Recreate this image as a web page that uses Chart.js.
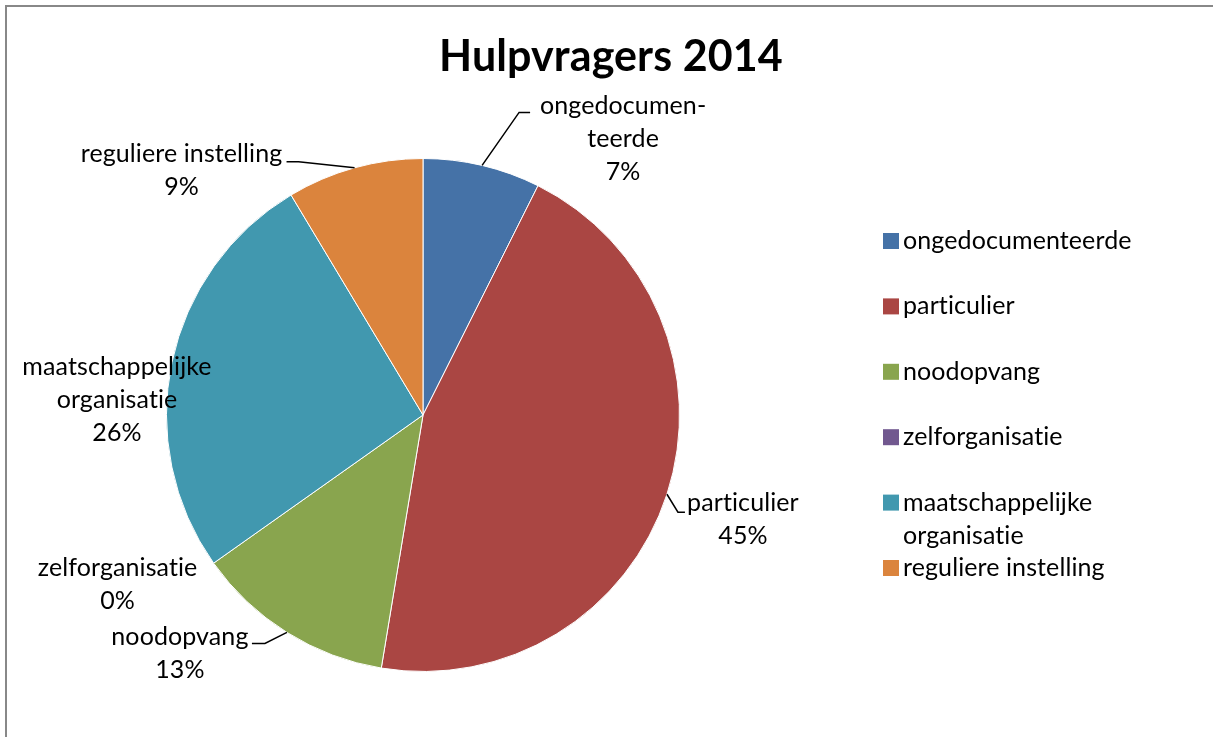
<!DOCTYPE html>
<html lang="nl">
<head>
<meta charset="UTF-8">
<title>Hulpvragers 2014</title>
<style>
  body { margin: 0; background: #fff; }
  #wrap { position: relative; width: 1213px; height: 737px; }
</style>
</head>
<body>
<div id="wrap"><canvas id="myChart"></canvas></div>

<script src="https://cdn.jsdelivr.net/npm/chart.js"></script>
<script>
// ---- data ----
const categories = ['ongedocumenteerde', 'particulier', 'noodopvang', 'zelforganisatie', 'maatschappelijke organisatie', 'reguliere instelling']
const percentages = [7.4, 45.2, 12.6, 0, 26.2, 8.6]
const sliceColors = ['#4572A7', '#AA4643', '#89A54E', '#71588F', '#4198AF', '#DB843D']
const chartTitle = 'Hulpvragers 2014'

// label placement relative to the outer mid point of each slice
const labelLayout = [
  { lines: ['ongedocumen-', 'teerde'], dx: 141, dy: -59, leader: [[37, -53], [48, -53]] },
  { lines: ['particulier'], dx: 76, dy: 9, leader: [[11, 18], [18, 18]] },
  { lines: ['noodopvang'], dx: -107, dy: 5, leader: [[-22, 11], [-35, 11]] },
  { lines: ['zelforganisatie'], dx: -96, dy: 5, leader: null },
  { lines: ['maatschappelijke', 'organisatie'], dx: -55, dy: 5, leader: null },
  { lines: ['reguliere instelling'], dx: -173, dy: -14, leader: [[-56, -6], [-68, -6]] }
]

const FONT = 'Lato, "Open Sans", sans-serif'
const LABEL_SIZE = 25
const LINE_H = 33

function txt(ctx, s, x, y, align) {
  ctx.textAlign = align || 'center'
  ctx.letterSpacing = '0.1px'   // also stops the Lato "ti" ligature
  ctx.fillText(s, x, y)
}

const frame = {
  id: 'frame',
  beforeDraw(chart) {
    const ctx = chart.ctx
    ctx.save()
    ctx.fillStyle = '#fff'
    ctx.fillRect(0, 0, chart.width, chart.height)
    ctx.strokeStyle = '#888'
    ctx.lineWidth = 2
    ctx.strokeRect(6, 6, chart.width + 20, chart.height + 20)
    ctx.restore()
  }
}

const extras = {
  id: 'extras',
  afterDraw(chart) {
    const ctx = chart.ctx
    const data = chart.data.datasets[0].data
    const total = data.reduce((a, b) => a + b, 0)
    const arcs = chart.getDatasetMeta(0).data

    // title
    ctx.save()
    ctx.fillStyle = '#000'
    ctx.font = 'bold 43px ' + FONT
    ctx.textBaseline = 'alphabetic'
    txt(ctx, chartTitle, 611, 71)
    ctx.restore()

    // data labels
    ctx.save()
    ctx.font = LABEL_SIZE + 'px ' + FONT
    ctx.fillStyle = '#000'
    ctx.textBaseline = 'middle'
    ctx.strokeStyle = '#000'
    ctx.lineWidth = 1.5
    arcs.forEach((arc, i) => {
      const mid = (arc.startAngle + arc.endAngle) / 2
      const px = arc.x + arc.outerRadius * Math.cos(mid)
      const py = arc.y + arc.outerRadius * Math.sin(mid)
      const lay = labelLayout[i]
      if (lay.leader) {
        ctx.beginPath()
        ctx.moveTo(px, py)
        lay.leader.forEach(p => ctx.lineTo(px + p[0], py + p[1]))
        ctx.stroke()
      }
      const lines = lay.lines.concat([Math.round(data[i] / total * 100) + '%'])
      lines.forEach((s, k) => txt(ctx, s, px + lay.dx, py + lay.dy + k * LINE_H))
    })
    ctx.restore()

    // legend
    ctx.save()
    ctx.font = LABEL_SIZE + 'px ' + FONT
    ctx.textBaseline = 'middle'
    let y = 241
    chart.data.labels.forEach((lab, i) => {
      ctx.fillStyle = chart.data.datasets[0].backgroundColor[i]
      ctx.fillRect(883, y - 8, 16, 16)
      ctx.fillStyle = '#000'
      // wrap words to the legend width
      const words = lab.split(' ')
      const rows = []
      let cur = ''
      words.forEach(w => {
        const t = cur ? cur + ' ' + w : w
        if (ctx.measureText(t).width > 240 && cur) { rows.push(cur); cur = w } else cur = t
      })
      rows.push(cur)
      rows.forEach((r, k) => txt(ctx, r, 903, y + k * LINE_H, 'left'))
      y += 65.4
    })
    ctx.restore()
  }
}

const ctx = document.getElementById('myChart')
const myChart = new Chart(ctx, {
  type: 'pie',
  data: {
    labels: categories,
    datasets: [{
      data: percentages,
      backgroundColor: sliceColors,
      borderColor: '#fff',
      borderWidth: 1
    }]
  },
  options: {
    responsive: true,
    maintainAspectRatio: false,
    animation: false,
    events: [],
    layout: { padding: { left: 166, right: 533, top: 158, bottom: 65 } },
    plugins: {
      legend: { display: false },
      title: { display: false },
      tooltip: { enabled: false }
    }
  },
  plugins: [frame, extras]
})
</script>
</body>
</html>
